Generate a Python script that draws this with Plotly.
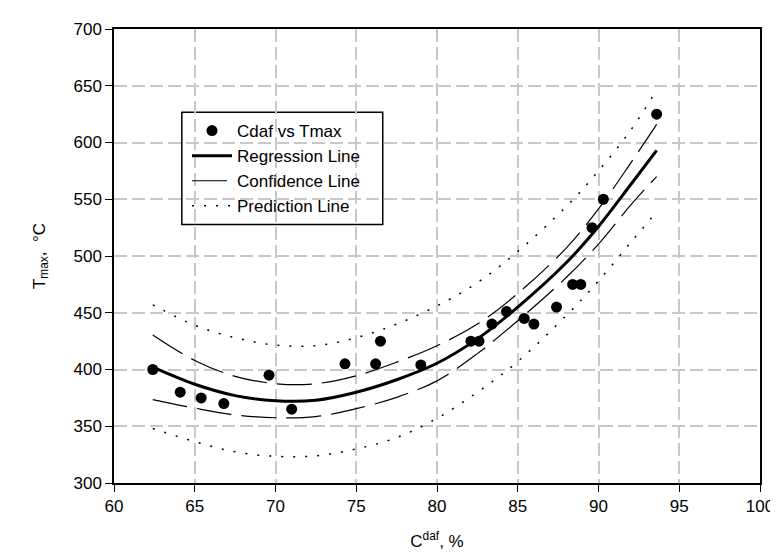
import plotly.graph_objects as go

# Observed data: Cdaf (%) vs Tmax (°C)
cdaf = [62.4, 64.1, 65.4, 66.8, 69.6, 71.0, 74.3, 76.2, 76.5, 79.0, 82.1, 82.6,
        83.4, 84.3, 85.4, 86.0, 87.4, 88.4, 88.9, 89.6, 90.3, 93.6]
tmax = [400, 380, 375, 370, 395, 365, 405, 405, 425, 404, 425, 425,
        440, 451, 445, 440, 455, 475, 475, 525, 550, 625]

# Fitted curves at these Cdaf positions
curve_x = [62.4, 65.0, 67.5, 70.0, 72.5, 75.0, 77.5, 80.0, 82.5, 85.0, 88.0, 90.0, 92.0, 93.6]
reg_y = [402, 387, 377, 372.5, 373, 380, 391, 405.5, 427, 455, 494, 526, 563, 593]
conf_up_y = [430.5, 408, 394, 387.5, 387.5, 394.5, 406.5, 421, 440, 467, 507, 541.5, 582, 616]
conf_lo_y = [373.5, 366, 360, 357.5, 358.5, 365.5, 375.5, 390, 414, 443, 481, 510.5, 545, 570]
pred_up_y = [457, 439, 428, 421.5, 421, 428, 440, 456, 476.5, 504, 543.5, 575, 611, 646]
pred_lo_y = [348, 336.5, 327.5, 323.5, 324, 330, 340, 357, 380, 407, 447.5, 478, 512, 539]

x_ticks = [60, 65, 70, 75, 80, 85, 90, 95, 100]
y_ticks = [300, 350, 400, 450, 500, 550, 600, 650, 700]

FONT = "Arial, Liberation Sans, sans-serif"

fig = go.Figure()

fig.add_trace(go.Scatter(x=curve_x, y=pred_up_y, mode="lines", name="Prediction Line",
                         line=dict(color="black", width=1.5, dash="2px,10px", shape="spline"),
                         legendrank=4))
fig.add_trace(go.Scatter(x=curve_x, y=pred_lo_y, mode="lines", showlegend=False,
                         line=dict(color="black", width=1.5, dash="2px,10px", shape="spline")))
fig.add_trace(go.Scatter(x=curve_x, y=conf_up_y, mode="lines", name="Confidence Line",
                         line=dict(color="black", width=1.2, dash="35px,10px", shape="spline"),
                         legendrank=3))
fig.add_trace(go.Scatter(x=curve_x, y=conf_lo_y, mode="lines", showlegend=False,
                         line=dict(color="black", width=1.2, dash="35px,10px", shape="spline")))
fig.add_trace(go.Scatter(x=curve_x, y=reg_y, mode="lines", name="Regression Line",
                         line=dict(color="black", width=3, shape="spline"),
                         legendrank=2))
fig.add_trace(go.Scatter(x=cdaf, y=tmax, mode="markers", name="Cdaf vs Tmax",
                         marker=dict(color="black", size=11, symbol="circle"),
                         legendrank=1))

axis_common = dict(
    showline=True, linecolor="black", linewidth=1.5, mirror=True,
    ticks="outside", ticklen=7, tickwidth=1, tickcolor="black",
    showgrid=True, gridcolor="#c8c8c8", gridwidth=2, griddash="13px,5px",
    zeroline=False, tickfont=dict(family=FONT, size=17, color="black"),
)

fig.update_xaxes(range=[60, 100], tickvals=x_ticks,
                 title=dict(text="C<sup>daf</sup>, %", font=dict(family=FONT, size=17, color="black"),
                            standoff=20),
                 **axis_common)
fig.update_yaxes(range=[300, 700], tickvals=y_ticks,
                 title=dict(text="T<sub>max</sub>,  °C", font=dict(family=FONT, size=17, color="black"),
                            standoff=24),
                 **axis_common)

fig.add_shape(type="rect", xref="paper", yref="paper",
              x0=0.105, x1=0.416, y0=0.5696, y1=0.8167,
              line=dict(color="black", width=1.5), fillcolor="white", layer="below")

fig.update_layout(
    width=778, height=554,
    margin=dict(l=106, r=16, t=15, b=79),
    paper_bgcolor="white", plot_bgcolor="rgba(0,0,0,0)",
    font=dict(family=FONT, size=17, color="black"),
    showlegend=True,
    legend=dict(x=0.113, y=0.815, xanchor="left", yanchor="top",
                bgcolor="rgba(0,0,0,0)", borderwidth=0,
                font=dict(family=FONT, size=17, color="black"),
                traceorder="normal", tracegroupgap=0, itemwidth=40),
)

fig.write_html("out.html")
